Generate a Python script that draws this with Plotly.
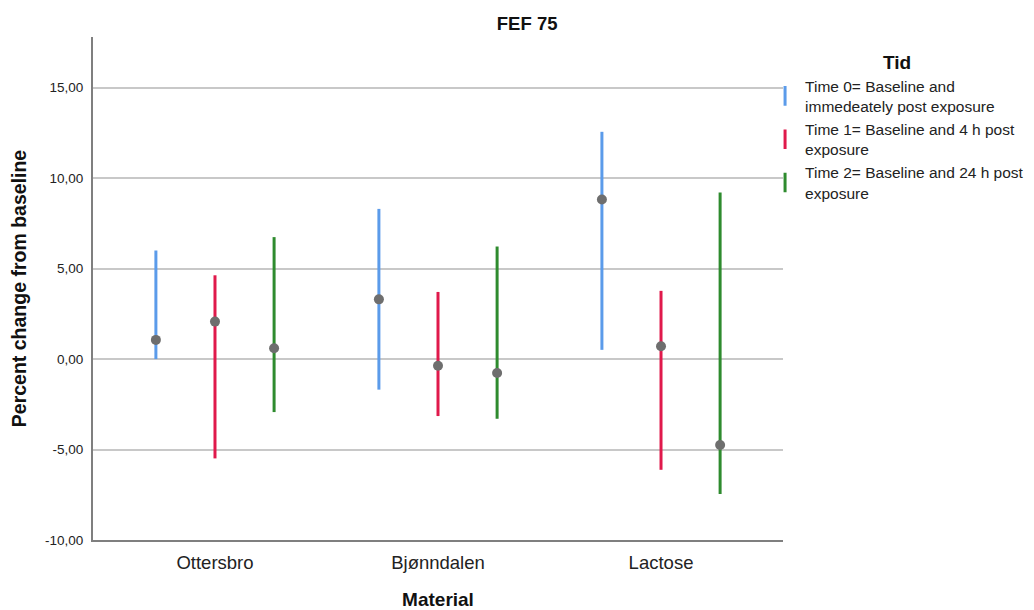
import plotly.graph_objects as go

categories = ["Ottersbro", "Bjønndalen", "Lactose"]
series_names = [
    "Time 0= Baseline and<br>immedeately post exposure",
    "Time 1= Baseline and 4 h post<br>exposure",
    "Time 2= Baseline and 24 h post<br>exposure",
]
means_t0 = [1.06, 3.30, 8.82]
low_t0 = [0.00, -1.69, 0.51]
high_t0 = [6.00, 8.30, 12.56]

means_t1 = [2.07, -0.37, 0.71]
low_t1 = [-5.49, -3.15, -6.12]
high_t1 = [4.63, 3.71, 3.77]

means_t2 = [0.60, -0.77, -4.75]
low_t2 = [-2.93, -3.30, -7.46]
high_t2 = [6.74, 6.22, 9.21]

y_ticks = [-10, -5, 0, 5, 10, 15]
y_ticktext = ["-10,00", "-5,00", "0,00", "5,00", "10,00", "15,00"]

colors = ["#5B9BEA", "#E0194B", "#2E8B2E"]
offsets = [-0.265, 0.0, 0.265]
series = [
    (means_t0, low_t0, high_t0),
    (means_t1, low_t1, high_t1),
    (means_t2, low_t2, high_t2),
]

fig = go.Figure()
for i, (m, lo, hi) in enumerate(series):
    xs = [k + offsets[i] for k in range(len(categories))]
    fig.add_trace(go.Scatter(
        x=xs, y=m, mode="markers",
        marker=dict(color="#6E6E6E", size=10),
        error_y=dict(type="data", symmetric=False,
                     array=[h - v for h, v in zip(hi, m)],
                     arrayminus=[v - l for v, l in zip(m, lo)],
                     color=colors[i], thickness=3, width=0),
        showlegend=False, hoverinfo="skip",
    ))
for i in range(3):
    fig.add_trace(go.Scatter(
        x=[None], y=[None], mode="markers", name=series_names[i],
        marker=dict(symbol="line-ns-open", size=14, color=colors[i],
                    line=dict(color=colors[i], width=3)),
    ))

fig.update_layout(
    width=1026, height=602,
    margin=dict(l=85, r=251, t=29, b=70, autoexpand=False),
    paper_bgcolor="white", plot_bgcolor="white",
    font=dict(family="Liberation Sans, Arial, sans-serif", color="#222"),
    title=dict(text="<b>FEF 75</b>", x=0.506, xanchor="center", y=0.985, yanchor="top",
               font=dict(size=18.5, color="#111")),
    xaxis=dict(range=[-0.547, 2.547], tickvals=list(range(len(categories))),
               ticktext=categories, showgrid=False, zeroline=False,
               showline=True, linecolor="#7f7f7f", linewidth=2, ticks="",
               ticklabelstandoff=5,
               tickfont=dict(size=18.5, color="#222"),
               title=dict(text="<b>Material</b>", font=dict(size=19, color="#111"), standoff=22)),
    yaxis=dict(range=[-10, 17.8], tickvals=y_ticks, ticktext=y_ticktext,
               showgrid=True, gridcolor="#C8C8C8", gridwidth=1.5, zeroline=False,
               showline=True, linecolor="#7f7f7f", linewidth=2, ticks="",
               ticklabelstandoff=5,
               tickfont=dict(size=13.5, color="#222"),
               title=dict(text="<b>Percent change from baseline</b>",
                          font=dict(size=19.5, color="#111"), standoff=16)),
    legend=dict(x=0.974, xanchor="left", y=0.985, yanchor="top",
                bgcolor="rgba(0,0,0,0)",
                font=dict(size=15.5, color="#222"),
                title=dict(text="<b>Tid</b>", side="top center", font=dict(size=19, color="#111")),
                itemwidth=30),
)

fig.write_html("out.html")
